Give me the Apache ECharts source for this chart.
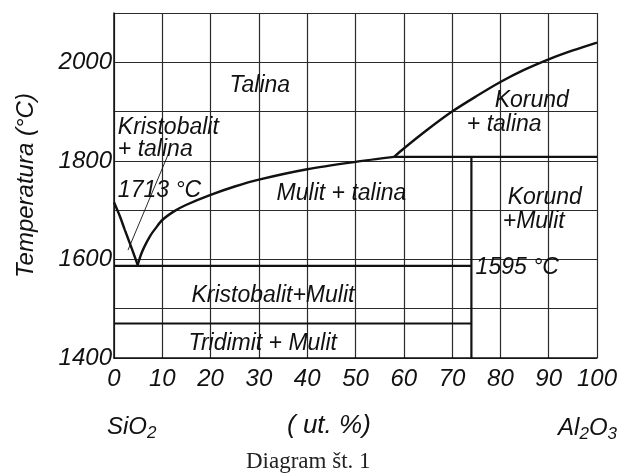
<!DOCTYPE html>
<html>
<head>
<meta charset="utf-8">
<script src="https://cdn.jsdelivr.net/npm/echarts@6/dist/echarts.min.js"></script>
<style>
html,body{margin:0;padding:0;background:#fff;}
#chart{width:620px;height:474px;}
</style>
</head>
<body>
<div id="chart"></div>
<script>
// ---- data (wt.% Al2O3, temperature °C) ----
const xTickLabels = [0, 10, 20, 30, 40, 50, 60, 70, 80, 90, 100];
const yTickLabels = [1400, 1600, 1800, 2000];

const cristobaliteLiquidus = [[0,1716],[1.2,1688],[2.2,1661],[3.5,1627],[4.9,1589]];
const mulliteLiquidus = [[4.9,1589],[5.6,1610],[6.4,1628],[7.5,1648],[8.6,1663],[10,1680],[12.5,1698],[15,1711],[20,1731],[25,1748],[30,1762],[40,1783],[50,1798],[58,1808]];
const corundumLiquidus = [[58,1808],[60,1825],[65,1864],[70,1900],[75,1931],[80,1960],[85,1985],[90,2006],[95,2024],[100,2040]];
const peritecticLine = [[58,1808],[100,1808]];
const mulliteLine = [[74,1400],[74,1808]];
const eutecticLine = [[0,1587],[74,1587]];
const tridymiteLine = [[0,1470],[74,1470]];
const guideLine = [[2.9,1619],[11.3,1815]];

const fieldNames = ['Talina','Kristobalit\n+ talina','1713 °C','Mulit + talina','Korund','+ talina','Korund','+Mulit','1595 °C','Kristobalit+Mulit','Tridimit + Mulit'];
const fieldX = [30.2, 0.8, 0.8, 47.1, 86.5, 80.8, 89.2, 86.9, 83.5, 32.9, 30.8];
const fieldY = [1952, 1846, 1739, 1733, 1923, 1873, 1725, 1676, 1583, 1526, 1430];

// ---- chart ----
const ink = '#111';
const sans = '"Liberation Sans", Arial, sans-serif';
const chart = echarts.init(document.getElementById('chart'), null, {renderer:'canvas'});

function lineSeries(data, width) {
  return {type:'line', data:data, symbol:'none', silent:true, smooth:false,
    lineStyle:{color:ink, width:width}, z:5};
}
function curveSeries(data, width) {
  const s = lineSeries(data, width); s.smooth = 0.3; return s;
}
const leftAligned = [false, true, true, false, false, false, false, false, false, false, false];

chart.setOption({
  backgroundColor:'#ffffff',
  animation:false,
  grid:{left:114, right:16, top:13, bottom:116, containLabel:false},
  xAxis:{type:'value', min:0, max:100, interval:10,
    axisLine:{show:true, lineStyle:{color:ink, width:1.5}},
    axisTick:{show:false},
    splitLine:{show:true, lineStyle:{color:'#2a2a2a', width:1.2}},
    axisLabel:{margin:9, color:ink, fontSize:24, fontStyle:'italic', fontFamily:sans,
      formatter:function(v){ return xTickLabels.indexOf(v) >= 0 ? String(v) : ''; }}
  },
  yAxis:{type:'value', min:1400, max:2100, interval:100,
    name:'Temperatura (°C)', nameLocation:'middle', nameGap:76, nameRotate:90,
    nameTextStyle:{color:ink, fontSize:24, fontStyle:'italic', fontFamily:sans},
    axisLine:{show:true, lineStyle:{color:ink, width:1.5}},
    axisTick:{show:false},
    splitLine:{show:true, lineStyle:{color:'#2a2a2a', width:1.2}},
    axisLabel:{margin:2, color:ink, fontSize:24, fontStyle:'italic', fontFamily:sans,
      formatter:function(v){ return yTickLabels.indexOf(v) >= 0 ? String(v) : ''; }}
  },
  series:[
    curveSeries(cristobaliteLiquidus, 2.4),
    curveSeries(mulliteLiquidus, 2.4),
    curveSeries(corundumLiquidus, 2.4),
    lineSeries(peritecticLine, 2.2),
    lineSeries(mulliteLine, 2.2),
    lineSeries(eutecticLine, 2.2),
    lineSeries(tridymiteLine, 2.2),
    lineSeries(guideLine, 0.9),
    {type:'scatter', symbolSize:0, silent:true, z:10,
      itemStyle:{opacity:1},
      data: fieldNames.map(function(n,i){
        return {value:[fieldX[i], fieldY[i]], name:n,
          label:{align: leftAligned[i] ? 'left' : 'center'}};
      }),
      label:{show:true, position:'inside', formatter:'{b}', color:ink, opacity:1,
        fontSize:23, fontStyle:'italic', fontFamily:sans, lineHeight:22,
        verticalAlign:'middle'}
    }
  ],
  graphic:[
    {type:'text', left:107, top:415, silent:true,
      style:{text:'{a|SiO}{s|2}', rich:{
        a:{fontSize:24, fontStyle:'italic', fontFamily:sans, fill:ink},
        s:{fontSize:17, fontStyle:'italic', fontFamily:sans, fill:ink, padding:[12,0,0,0]}}}},
    {type:'text', left:287, top:413, silent:true,
      style:{text:'( ut. %)', fontSize:26, fontStyle:'italic', fontFamily:sans, fill:ink}},
    {type:'text', right:3, top:416, silent:true,
      style:{text:'{a|Al}{s|2}{a|O}{s|3}', rich:{
        a:{fontSize:24, fontStyle:'italic', fontFamily:sans, fill:ink},
        s:{fontSize:17, fontStyle:'italic', fontFamily:sans, fill:ink, padding:[12,0,0,0]}}}},
    {type:'text', left:246, top:450, silent:true,
      style:{text:'Diagram št. 1', fontSize:23, fontFamily:'"Liberation Serif", "DejaVu Serif", serif', fill:'#222'}}
  ]
});
</script>
</body>
</html>
